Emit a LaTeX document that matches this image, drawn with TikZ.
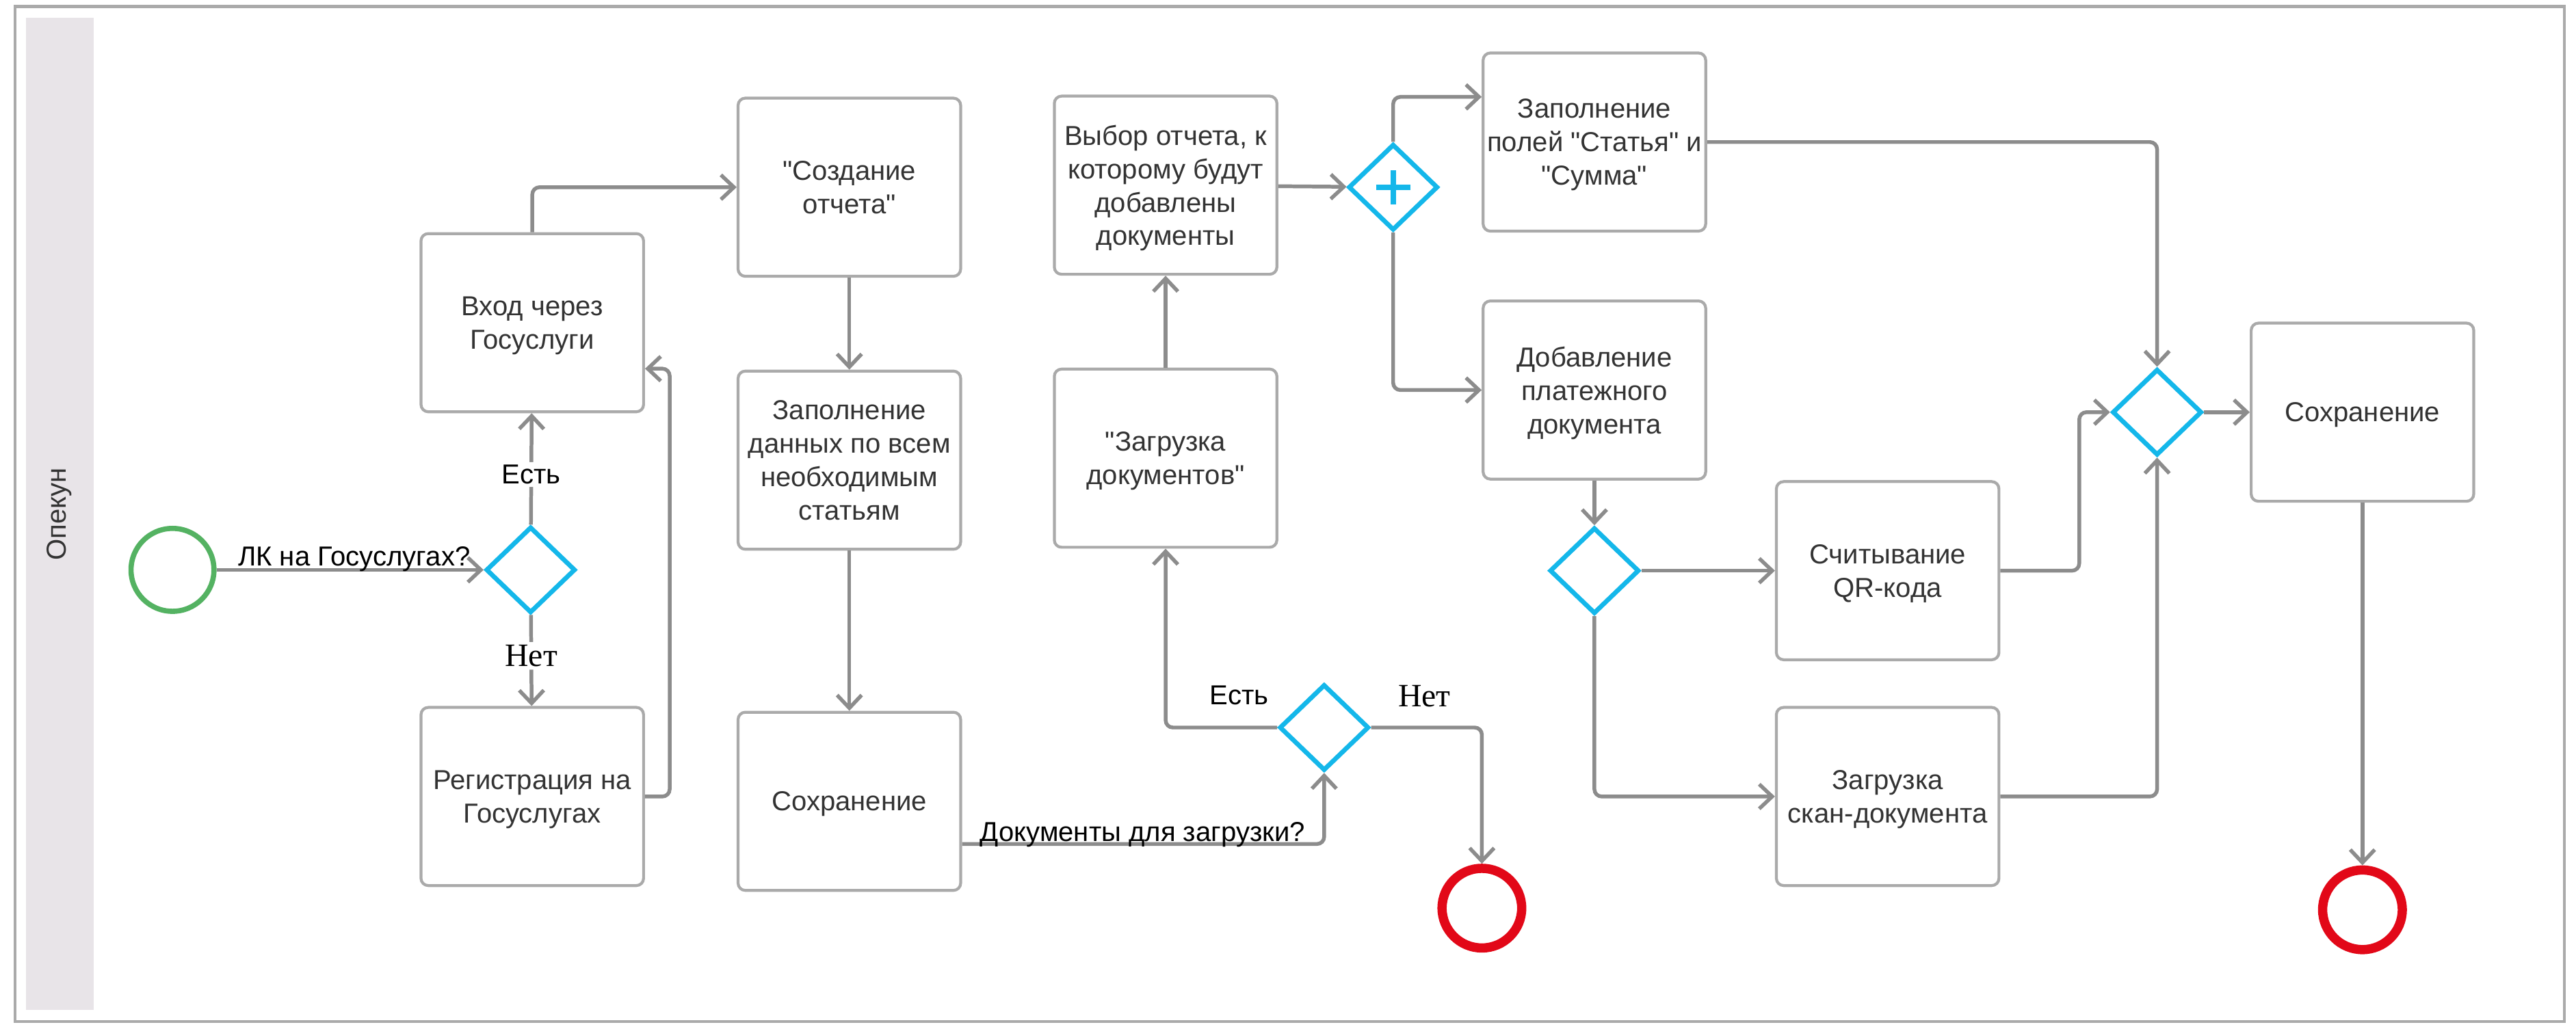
\documentclass[tikz,border=0pt]{standalone}
\usepackage{fontspec}
\setmainfont[Ligatures=TeXOff]{Liberation Sans}
\newfontfamily\serifnet{Liberation Serif}
\usepackage{tikz}
\usetikzlibrary{shapes.geometric,arrows.meta,positioning}
\definecolor{flowgray}{RGB}{140,140,140}
\definecolor{boxgray}{RGB}{170,170,170}
\definecolor{gatecyan}{RGB}{20,183,234}
\definecolor{startgreen}{RGB}{84,178,98}
\definecolor{endred}{RGB}{226,8,24}
\definecolor{lanefill}{RGB}{232,228,232}
\definecolor{textdark}{RGB}{51,51,51}
\tikzstyle{task}=[rectangle,rounded corners=2.5pt,draw=boxgray,line width=1pt,fill=white,minimum width=2.71cm,minimum height=2.17cm,inner sep=0pt,align=center,text=textdark,text depth=-6.5pt,font=\fontsize{9.5}{11.6}\selectfont]
\tikzstyle{gate}=[diamond,draw=gatecyan,line width=1.6pt,minimum width=1.09cm,minimum height=1.05cm,inner sep=0pt,fill=white]
\tikzstyle{pgate}=[gate,path picture={\draw[gatecyan,line width=2pt] (path picture bounding box.center) +(-0.21cm,0) -- +(0.21cm,0) +(0,-0.21cm) -- +(0,0.21cm);}]
\tikzstyle{startev}=[circle,draw=startgreen,line width=1.8pt,minimum size=1.01cm,inner sep=0pt]
\tikzstyle{endev}=[circle,draw=endred,line width=3.2pt,minimum size=0.97cm,inner sep=0pt]
\tikzstyle{flow}=[-{Straight Barb[length=4.5pt,width=8.5pt]},draw=flowgray,line width=1.3pt,rounded corners=2.5pt]
\tikzstyle{cond}=[font=\fontsize{9.5}{11}\selectfont,text=black,inner sep=1pt]
\tikzstyle{netlbl}=[font=\serifnet\fontsize{11.3}{13}\selectfont,text=black,inner sep=1pt]

\begin{document}
\begin{tikzpicture}[x=0.02cm,y=-0.02cm]
    \useasboundingbox (0,0) rectangle (1568,625);

    % Дорожка
    \draw[boxgray,line width=1pt] (9,4) rectangle (1561,622);
    \fill[lanefill] (16,11) rectangle (57,615);
    \node[rotate=90,text=textdark,font=\fontsize{9.5}{11}\selectfont] (lane) at (36,313) {Опекун};

    % Узлы
    \node[startev] (start) at (105,347) {};
    \node[gate] (g1) at (323,347) {};
    \node[task] (enter) at (324,196.5) {Вход через\\Госуслуги};
    \node[task] (reg) at (324,485) {Регистрация на\\Госуслугах};
    \node[task] (create) at (517,114) {"Создание\\отчета"};
    \node[task] (fill) [below=1.12cm of create] {Заполнение\\данных по всем\\необходимым\\статьям};
    \node[task] (save1) [below=1.95cm of fill] {Сохранение};
    \node[gate] (g2) at (806,443) {};
    \node[endev] (end1) at (902,553) {};
    \node[task] (upload) at (709.5,279) {"Загрузка\\документов"};
    \node[task] (select) [above=1.12cm of upload] {Выбор отчета, к\\которому будут\\добавлены\\документы};
    \node[pgate] (g3) at (848,114) {};
    \node[task] (fields) at (970.5,86.5) {Заполнение\\полей "Статья" и\\"Сумма"};
    \node[task] (add) at (970.5,237.5) {Добавление\\платежного\\документа};
    \node[gate] (g4) at (970.5,347.5) {};
    \node[task] (qr) at (1149,347.5) {Считывание\\QR-кода};
    \node[task] (scan) at (1149,485) {Загрузка\\скан-документа};
    \node[gate] (g5) at (1313,251) {};
    \node[task] (save2) at (1438,251) {Сохранение};
    \node[endev] (end2) at (1438,554) {};

    % Переходы
    \draw [flow] (start) -- node[cond,pos=1,anchor=base east,xshift=-3pt,yshift=1.5pt] {ЛК на Госуслугах?} (g1);
    \draw [flow] (g1) -- node[cond,fill=white,pos=0.45] {Есть} (enter);
    \draw [flow] (g1) -- node[netlbl,fill=white,pos=0.45] {Нет} (reg);
    \draw [flow] (reg.east) -- ++(15,0) |- ([yshift=-0.56cm]enter.east);
    \draw [flow] (enter.north) |- (create.west);
    \draw [flow] (create) -- (fill);
    \draw [flow] (fill) -- (save1);
    \draw [flow] ([yshift=-0.52cm]save1.east) -| node[cond,pos=0,anchor=base west,xshift=4.5pt,yshift=1pt] {Документы для загрузки?} (g2.south);
    \draw [flow] (g2.west) -| node[cond,pos=0.17,anchor=base,yshift=8pt] {Есть} (upload.south);
    \draw [flow] (g2.east) -| node[netlbl,pos=0.24,anchor=base,yshift=7.3pt] {Нет} (end1.north);
    \draw [flow] (upload) -- (select);
    \draw [flow] (select) -- (g3);
    \draw [flow] (g3.north) |- ([yshift=0.55cm]fields.west);
    \draw [flow] (g3.south) |- (add.west);
    \draw [flow] (add) -- (g4);
    \draw [flow] (g4) -- (qr);
    \draw [flow] (g4.south) |- (scan.west);
    \draw [flow] (fields.east) -| (g5.north);
    \draw [flow] (qr.east) -- ++(48,0) |- (g5.west);
    \draw [flow] (scan.east) -| (g5.south);
    \draw [flow] (g5) -- (save2);
    \draw [flow] (save2) -- (end2);

\end{tikzpicture}
\end{document}
